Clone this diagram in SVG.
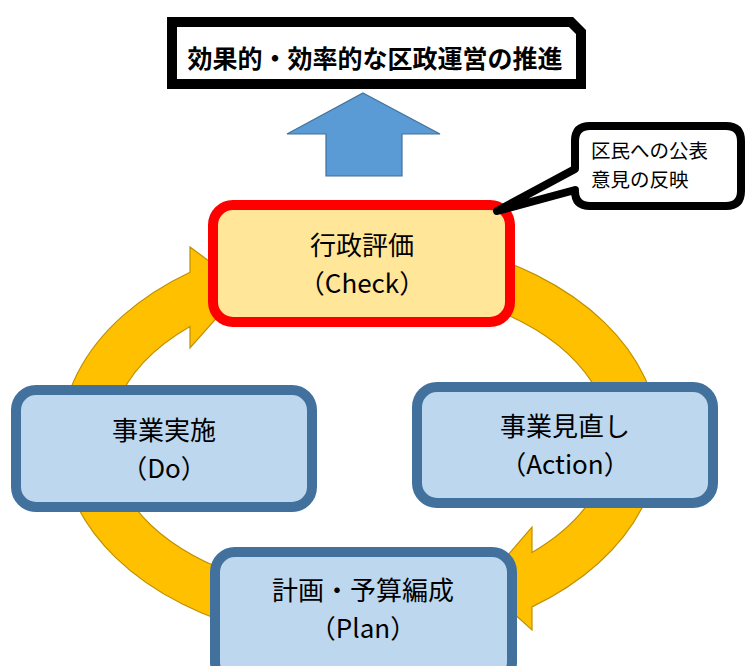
<svg xmlns="http://www.w3.org/2000/svg" width="747" height="666" viewBox="0 0 747 666">
<style>
.cyc{fill:#FFC000;stroke:#BF9000;stroke-width:1.2}
.blue{fill:#BDD7EE;stroke:#41719C;stroke-width:10}
.t{font-family:"Noto Sans CJK JP","Noto Sans",sans-serif;font-size:26px;fill:#000;text-anchor:middle}
.c{font-family:"Noto Sans CJK JP","Noto Sans",sans-serif;font-size:19.5px;fill:#000}
</style>
<rect width="747" height="666" fill="#fff"/>
<g id="connectors">
<path class="cyc" d="M 360 644 A 299 204 0 0 1 190 272.2 L 190 247 L 244 287 L 190 348 L 190 326.4 A 250 155 0 0 0 360 595 Z"/>
<path class="cyc" d="M 360 236 A 299 204 0 0 1 532 606.9 L 532 630 L 482 585 L 532 527 L 532 552.5 A 250 155 0 0 0 360 285 Z"/>
<path id="up-arrow" d="M 363 93 L 440 134 L 402 134 L 402 176 L 326 176 L 326 134 L 287 134 Z" fill="#5B9BD5" stroke="#41719C" stroke-width="1.2"/>
</g>
<g id="goal">
<path d="M 172 22 H 571 L 581 32 V 84 H 172 Z" fill="#fff" stroke="#000" stroke-width="10"/>
<text x="375" y="68" font-family="'Noto Sans CJK JP','Noto Sans',sans-serif" font-size="25" font-weight="bold" text-anchor="middle">効果的・効率的な区政運営の推進</text>
</g>
<g id="check">
<rect x="213" y="205" width="297" height="117" rx="20" fill="#FFE699" stroke="#FF0000" stroke-width="10"/>
<text class="t"><tspan x="362" y="255">行政評価</tspan><tspan x="362" y="293">（Check）</tspan></text>
</g>
<g id="do">
<rect class="blue" x="16" y="390" width="296" height="117" rx="20"/>
<text class="t"><tspan x="164" y="440">事業実施</tspan><tspan x="164" y="478">（Do）</tspan></text>
</g>
<g id="action">
<rect class="blue" x="417" y="387" width="296" height="116" rx="20"/>
<text class="t"><tspan x="565" y="436">事業見直し</tspan><tspan x="565" y="474">（Action）</tspan></text>
</g>
<g id="plan">
<rect class="blue" x="215" y="552" width="297" height="130" rx="20"/>
<text class="t"><tspan x="363" y="600">計画・予算編成</tspan><tspan x="363" y="638">（Plan）</tspan></text>
</g>
<g id="callout">
<path d="M 590 126 H 726 Q 741 126 741 141 V 191 Q 741 206 726 206 H 590 Q 575 206 575 191 V 190 L 497 211 L 575 169 V 141 Q 575 126 590 126 Z" fill="#fff" stroke="#000" stroke-width="8" stroke-linejoin="round"/>
<text class="c"><tspan x="591" y="158">区民への公表</tspan><tspan x="591" y="187">意見の反映</tspan></text>
</g>
</svg>
